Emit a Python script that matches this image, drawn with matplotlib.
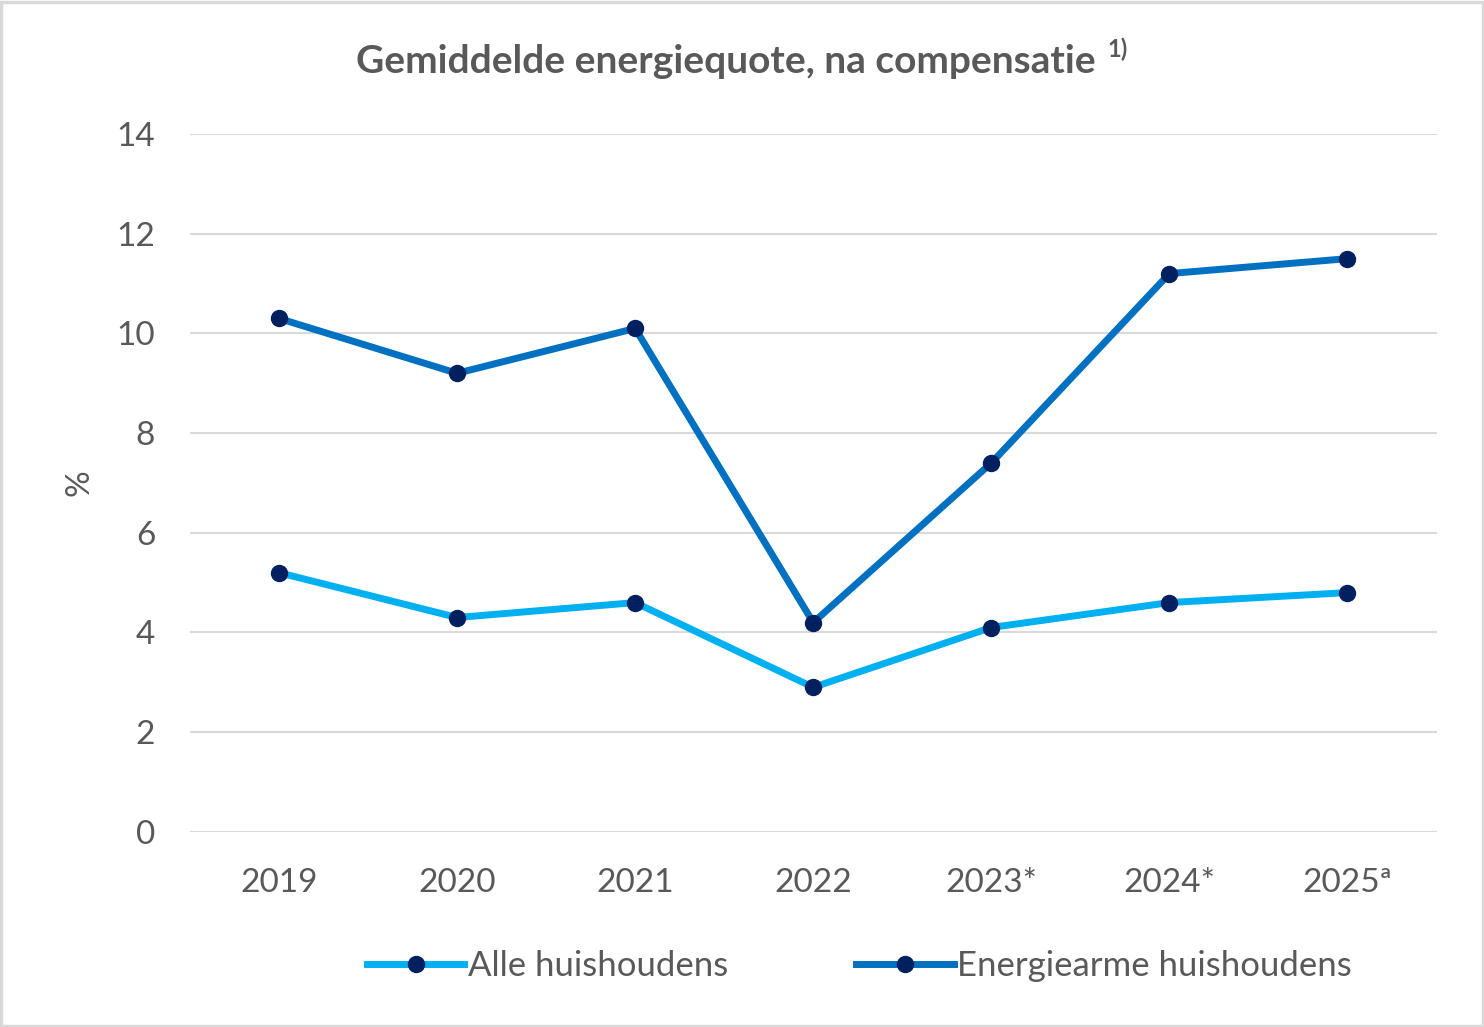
import matplotlib.pyplot as plt

jaren = ['2019', '2020', '2021', '2022', '2023*', '2024*', '2025\u00aa']
alle = [5.2, 4.3, 4.6, 2.9, 4.1, 4.6, 4.8]
energiearm = [10.3, 9.2, 10.1, 4.2, 7.4, 11.2, 11.5]

plt.rcParams['font.family'] = ['Lato', 'DejaVu Sans']
grijs = '#595959'

fig = plt.figure(figsize=(14.84, 10.27), dpi=100)
ax = fig.add_axes([0.128, 0.19, 0.84, 0.6795])

x = range(len(jaren))
ax.plot(x, alle, color='#00B0F0', lw=5, marker='o', ms=11.5,
        mfc='#002060', mec='#002060', label='Alle huishoudens', zorder=3)
ax.plot(x, energiearm, color='#0070C0', lw=5, marker='o', ms=11.5,
        mfc='#002060', mec='#002060', label='Energiearme huishoudens', zorder=3)

ax.set_xlim(-0.5, len(jaren) - 0.5)
ax.set_ylim(0, 14)
ax.set_yticks(range(0, 15, 2))
ax.set_xticks(list(x))
ax.set_xticklabels(jaren)
ax.grid(axis='y', color='#D9D9D9', lw=1.5)
ax.set_axisbelow(True)
for s in ax.spines.values():
    s.set_visible(False)
ax.tick_params(length=0, labelsize=24, colors=grijs)
ax.tick_params(axis='y', pad=25)
ax.tick_params(axis='x', pad=26)
ax.set_ylabel('%', fontsize=24, color=grijs, labelpad=16)

leg = ax.legend(loc='upper center', bbox_to_anchor=(0.537, -0.125), ncol=2,
                frameon=False, fontsize=25, handlelength=2.8,
                columnspacing=3.7, handletextpad=0.1)
for t in leg.get_texts():
    t.set_color(grijs)

# titel met voetnootverwijzing, samen gecentreerd
titel = fig.text(0.5, 0.94, 'Gemiddelde energiequote, na compensatie',
                 ha='left', va='center', fontsize=28, fontweight='bold', color=grijs)
noot = fig.text(0.5, 0.952, '1)', ha='left', va='center',
                fontsize=17, fontweight='bold', color=grijs)
fig.canvas.draw()
w1 = titel.get_window_extent().width / fig.bbox.width
w2 = noot.get_window_extent().width / fig.bbox.width
gap = 0.008
start = 0.5 - (w1 + gap + w2) / 2
titel.set_x(start)
noot.set_x(start + w1 + gap)

# lichte rand om de figuur
fig.patches.append(plt.Rectangle((0.001, 0.001), 0.998, 0.997, transform=fig.transFigure,
                                 fill=False, edgecolor='#D9D9D9', lw=2.5))

fig.savefig('out.png', dpi=100)
